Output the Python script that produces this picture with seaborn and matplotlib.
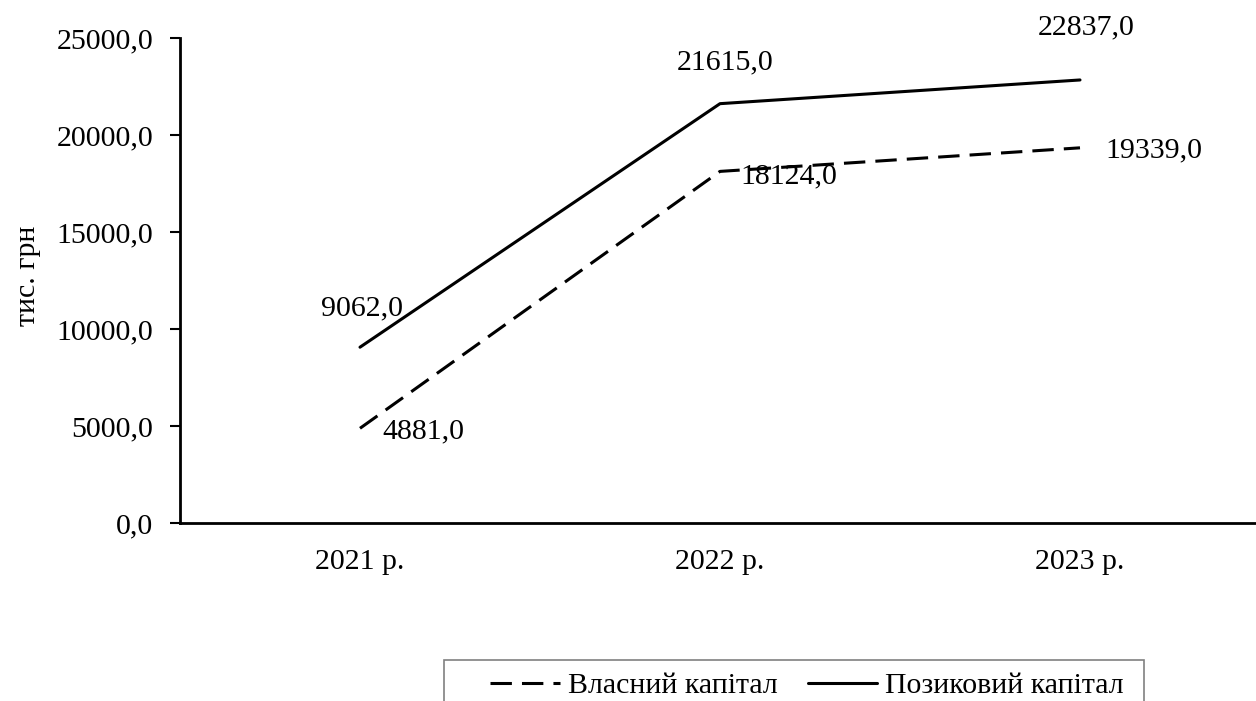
import matplotlib
matplotlib.use("Agg")
import matplotlib.pyplot as plt
import seaborn as sns
import pandas as pd
from matplotlib.patches import Rectangle
from matplotlib.ticker import FuncFormatter, MultipleLocator

years = ["2021 р.", "2022 р.", "2023 р."]
own_capital = [4881.0, 18124.0, 19339.0]
borrowed_capital = [9062.0, 21615.0, 22837.0]
series_names = ["Власний капітал", "Позиковий капітал"]

df = pd.DataFrame({
    "year": years * 2,
    "value": own_capital + borrowed_capital,
    "series": [series_names[0]] * 3 + [series_names[1]] * 3,
})

sns.set_theme(style="white")
plt.rcParams["font.family"] = ["Liberation Serif", "DejaVu Serif"]
FS = 21.5
plt.rcParams["font.size"] = FS

W, H = 1256, 701
fig = plt.figure(figsize=(W / 100, H / 100), dpi=100)
ax = fig.add_axes([180 / W, 178 / H, 1080 / W, 485 / H])

sns.lineplot(
    data=df, x="year", y="value", style="series",
    style_order=series_names,
    dashes={series_names[0]: (7, 3.3), series_names[1]: ""},
    color="black", linewidth=2.2, sort=False, ax=ax, legend=True,
)

ax.set_xlim(-0.5, 2.5)
ax.set_ylim(0, 25000)
ax.yaxis.set_major_locator(MultipleLocator(5000))


def comma(v):
    return f"{v:.1f}".replace(".", ",")


ax.yaxis.set_major_formatter(FuncFormatter(lambda v, p: comma(v)))
ax.set_xticks([0, 1, 2])
ax.set_xticks([-0.5, 0.5, 1.5, 2.5], minor=True)
ax.tick_params(axis="x", which="major", length=0, pad=19, labelsize=FS, colors="black")
ax.tick_params(axis="x", which="minor", length=7.2, width=1.5, direction="out", color="black")
ax.tick_params(axis="y", length=7.2, width=1.5, direction="out", color="black",
               labelsize=FS, pad=12, labelcolor="black")
ax.tick_params(bottom=True, left=True)

for side in ["top", "right"]:
    ax.spines[side].set_visible(False)
for side in ["left", "bottom"]:
    ax.spines[side].set_color("black")
    ax.spines[side].set_linewidth(2)

ax.set_xlabel("")
ax.set_ylabel("тис. грн", fontsize=FS, color="black")
ax.yaxis.set_label_coords((41 - 180) / 1080, 0.51)

px = 72 / 100
label_style = dict(textcoords="offset points", va="baseline", fontsize=FS, color="black")
# own capital value labels
ax.annotate(comma(own_capital[0]), (0, own_capital[0]), xytext=(22 * px, -10 * px), ha="left", **label_style)
ax.annotate(comma(own_capital[1]), (1, own_capital[1]), xytext=(20 * px, -12 * px), ha="left", **label_style)
ax.annotate(comma(own_capital[2]), (2, own_capital[2]), xytext=(25 * px, -10 * px), ha="left", **label_style)
# borrowed capital value labels
ax.annotate(comma(borrowed_capital[0]), (0, borrowed_capital[0]), xytext=(43 * px, 32 * px), ha="right", **label_style)
ax.annotate(comma(borrowed_capital[1]), (1, borrowed_capital[1]), xytext=(5 * px, 34 * px), ha="center", **label_style)
ax.annotate(comma(borrowed_capital[2]), (2, borrowed_capital[2]), xytext=(6 * px, 46 * px), ha="center", **label_style)

handles, labels = ax.get_legend_handles_labels()
ax.get_legend().remove()
leg = fig.legend(
    handles, labels, loc="center left",
    bbox_to_anchor=(490 / W, 1 - 686 / H),
    ncol=2, frameon=False, fontsize=FS,
    handlelength=2.34, handletextpad=0.27, columnspacing=1.0,
    borderpad=0, borderaxespad=0,
)
for h in leg.legend_handles:
    h.set_linewidth(2.2)
for t in leg.get_texts():
    t.set_color("black")

# legend frame, running off the bottom edge of the figure
fig.patches.append(Rectangle((444 / W, -0.05), 700 / W, 0.05 + 1 - 660 / H,
                             transform=fig.transFigure, fill=False,
                             edgecolor="#808080", linewidth=1.2))

fig.savefig("out.png", dpi=100)
